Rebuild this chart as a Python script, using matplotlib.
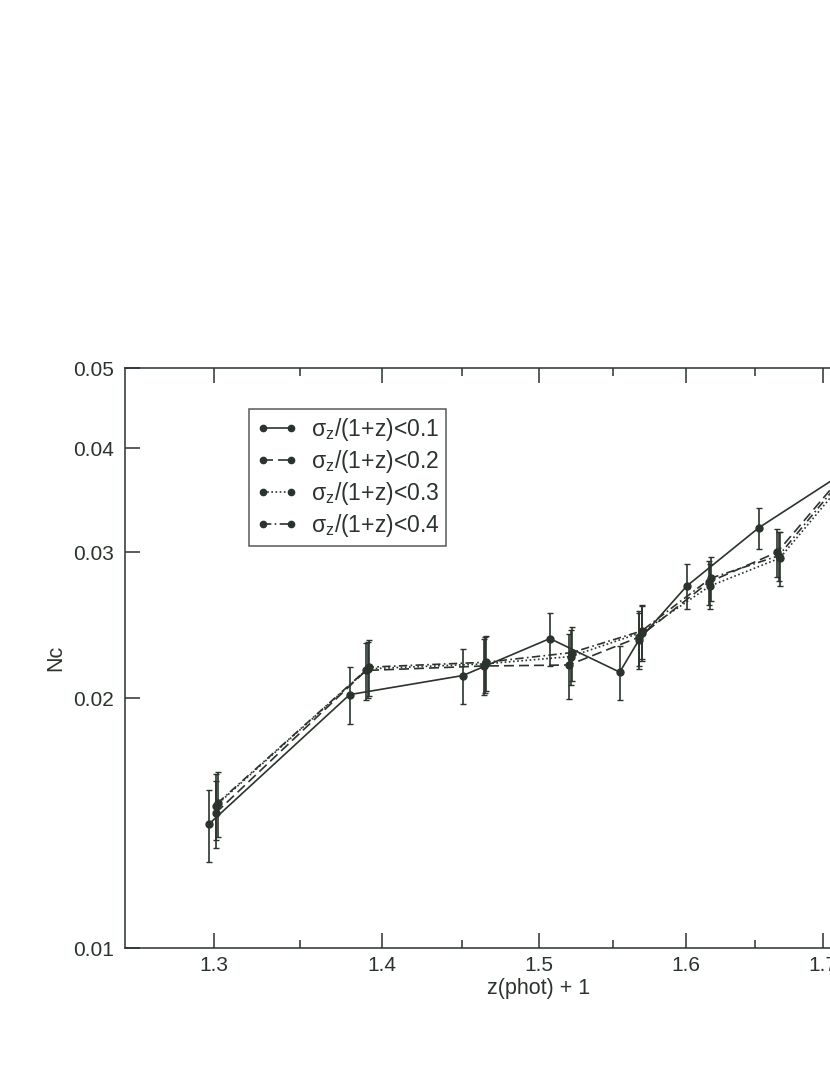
import matplotlib
matplotlib.use('Agg')
import matplotlib.pyplot as plt
from matplotlib.lines import Line2D
from matplotlib.ticker import FixedLocator, FixedFormatter, NullFormatter, NullLocator

plt.rcParams['font.family'] = ['Liberation Sans', 'DejaVu Sans']
plt.rcParams['mathtext.fontset'] = 'custom'
plt.rcParams['mathtext.rm'] = 'Liberation Sans'
plt.rcParams['mathtext.it'] = 'Liberation Sans'

INK = '#2a332c'

# ── data ────────────────────────────────────────────────────────────────
z_01 = [1.297, 1.380, 1.4506, 1.5072, 1.5543, 1.5674, 1.6008, 1.6525, 1.72]
nc_01 = [0.0141, 0.0202, 0.0213, 0.0236, 0.0215, 0.0235, 0.0273, 0.0321, 0.0378]
err_01 = [0.00140, 0.0016, 0.0016, 0.0017, 0.0016, 0.0018, 0.0017, 0.0018, 0.0020]

z_02 = [1.301, 1.390, 1.464, 1.5198, 1.5674, 1.6165, 1.666, 1.72]
nc_02 = [0.01455, 0.0216, 0.02187, 0.02193, 0.02369, 0.0276, 0.0300, 0.0380]
err_02 = [0.00135, 0.0017, 0.0017, 0.0020, 0.0018, 0.0017, 0.0020, 0.0022]

z_03 = [1.301, 1.391, 1.465, 1.521, 1.5693, 1.6172, 1.6678, 1.72]
nc_03 = [0.01484, 0.0217, 0.0220, 0.02245, 0.0240, 0.0273, 0.0295, 0.0372]
err_03 = [0.00135, 0.0017, 0.0017, 0.0017, 0.0018, 0.0017, 0.0022, 0.0022]

z_04 = [1.302, 1.392, 1.4655, 1.5219, 1.5693, 1.6178, 1.6670, 1.72]
nc_04 = [0.01495, 0.0218, 0.0221, 0.0227, 0.0241, 0.0279, 0.0297, 0.0377]
err_04 = [0.00135, 0.0017, 0.0017, 0.0017, 0.0018, 0.0017, 0.0020, 0.0022]

labels = [r'σ$_\mathregular{z}$/(1+z)<0.1', r'σ$_\mathregular{z}$/(1+z)<0.2',
          r'σ$_\mathregular{z}$/(1+z)<0.3', r'σ$_\mathregular{z}$/(1+z)<0.4']
styles = ['-', (0, (6, 3)), (0, (1, 1.5)), (0, (5, 2, 1, 2))]

x_major = [1.3, 1.4, 1.5, 1.6, 1.7]
x_minor = [1.35, 1.45, 1.55, 1.65, 1.75]
y_major = [0.01, 0.02, 0.03, 0.04, 0.05]

# ── figure (axes run past the right edge, like the cropped original) ────
fig = plt.figure(figsize=(8.3, 10.75), dpi=100)
ax = fig.add_axes([125 / 830, 1 - 948 / 1075, (953 - 125) / 830, (948 - 368) / 1075])

series = [(z_01, nc_01, err_01), (z_02, nc_02, err_02),
          (z_03, nc_03, err_03), (z_04, nc_04, err_04)]
handles = []
for (z, nc, err), ls, lab in zip(series, styles, labels):
    ax.errorbar(z, nc, yerr=err, fmt='o', ls=ls, color=INK, lw=1.2,
                ms=5, elinewidth=1.2, capsize=2.4, capthick=1.0)
    handles.append(Line2D([0], [0], ls=ls, lw=1.2, color=INK, marker='o', ms=4.5))

ax.set_xscale('log')
ax.set_yscale('log')
ax.set_xlim(1.25, 1.8)
ax.set_ylim(0.01, 0.05)

ax.xaxis.set_major_locator(FixedLocator(x_major))
ax.xaxis.set_major_formatter(FixedFormatter([str(v) for v in x_major]))
ax.xaxis.set_minor_locator(FixedLocator(x_minor))
ax.xaxis.set_minor_formatter(NullFormatter())
ax.yaxis.set_major_locator(FixedLocator(y_major))
ax.yaxis.set_major_formatter(FixedFormatter([str(v) for v in y_major]))
ax.yaxis.set_minor_locator(NullLocator())

ax.tick_params(which='both', direction='in', top=True, right=True,
               color=INK, labelcolor=INK, labelsize=15)
ax.tick_params(which='major', length=11, width=1.1)
ax.tick_params(which='minor', length=6, width=1.1)
ax.tick_params(axis='x', pad=6)
ax.tick_params(axis='y', pad=8)
for sp in ax.spines.values():
    sp.set_color(INK)
    sp.set_linewidth(1.1)

ax.set_xlabel('z(phot) + 1', fontsize=15.5, color=INK, labelpad=2)
ax.set_ylabel('Nc', fontsize=15.5, color=INK, labelpad=5)

leg = ax.legend(handles, labels, loc='upper left',
                bbox_to_anchor=(249 / 830, 1 - 409 / 1075),
                bbox_transform=fig.transFigure, borderaxespad=0, numpoints=2,
                fontsize=16.5, fancybox=False, handlelength=1.85, handletextpad=0.55,
                labelspacing=0.22, borderpad=0.3, labelcolor=INK)
leg.get_frame().set_edgecolor(INK)
leg.get_frame().set_linewidth(1.1)

fig.savefig('out.png', dpi=100)
